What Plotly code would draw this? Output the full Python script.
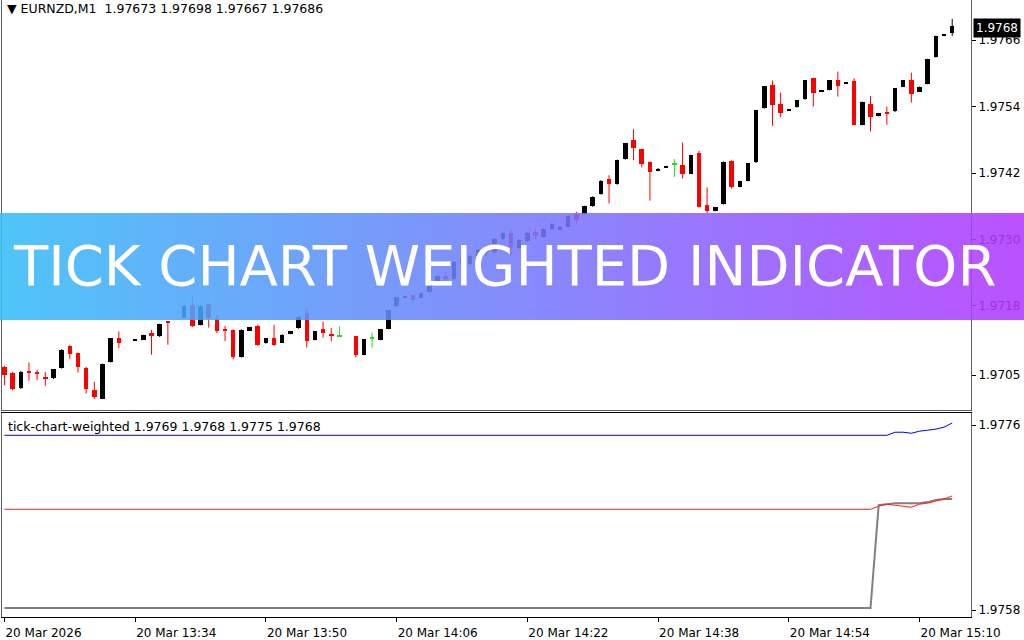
import base64
import struct
import zlib
import plotly.graph_objects as go

# ---------------- data ----------------
DATE = "2026-03-20"
times = [
    "13:18", "13:19", "13:20", "13:21", "13:22", "13:23", "13:24", "13:25", "13:26", "13:27",
    "13:28", "13:29", "13:30", "13:31", "13:32", "13:34", "13:35", "13:36", "13:37", "13:38",
    "13:40", "13:41", "13:42", "13:43", "13:44", "13:45", "13:46", "13:47", "13:48", "13:49",
    "13:50", "13:51", "13:52", "13:53", "13:54", "13:55", "13:56", "13:57", "13:58", "13:59",
    "14:01", "14:02", "14:03", "14:04", "14:05", "14:06", "14:07", "14:08", "14:09", "14:10",
    "14:11", "14:12", "14:13", "14:14", "14:15", "14:16", "14:17", "14:18", "14:19", "14:20",
    "14:21", "14:22", "14:23", "14:24", "14:25", "14:26", "14:27", "14:28", "14:29", "14:30",
    "14:31", "14:32", "14:33", "14:34", "14:35", "14:36", "14:37", "14:38", "14:39", "14:40",
    "14:41", "14:42", "14:43", "14:44", "14:45", "14:46", "14:47", "14:48", "14:49", "14:50",
    "14:51", "14:52", "14:53", "14:54", "14:55", "14:56", "14:57", "14:58", "14:59", "15:00",
    "15:01", "15:02", "15:03", "15:04", "15:05", "15:06", "15:07", "15:08", "15:09", "15:10",
    "15:11", "15:12", "15:13", "15:14",
]
opens = [
    1.97070, 1.97059, 1.97032, 1.97061, 1.97061, 1.97052, 1.97050, 1.97068, 1.97108, 1.97095,
    1.97069, 1.97028, 1.97013, 1.97079, 1.97122, 1.97117, 1.97119, 1.97132, 1.97125, 1.97152,
    1.97158, 1.97182, 1.97146, 1.97184, 1.97156, 1.97138, 1.97137, 1.97088, 1.97135, 1.97144,
    1.97113, 1.97122, 1.97114, 1.97130, 1.97140, 1.97167, 1.97119, 1.97138, 1.97130, 1.97125,
    1.97125, 1.97092, 1.97122, 1.97119, 1.97138, 1.97180, 1.97196, 1.97200, 1.97194, 1.97206,
    1.97221, 1.97234, 1.97229, 1.97267, 1.97256, 1.97270, 1.97283, 1.97277, 1.97301, 1.97312,
    1.97285, 1.97297, 1.97314, 1.97304, 1.97319, 1.97317, 1.97323, 1.97346, 1.97346, 1.97360,
    1.97382, 1.97410, 1.97400, 1.97445, 1.97480, 1.97463, 1.97440, 1.97425, 1.97430, 1.97435,
    1.97435, 1.97419, 1.97457, 1.97362, 1.97351, 1.97364, 1.97442, 1.97395, 1.97406, 1.97439,
    1.97537, 1.97579, 1.97545, 1.97533, 1.97539, 1.97553, 1.97591, 1.97567, 1.97570, 1.97587,
    1.97582, 1.97586, 1.97507, 1.97545, 1.97523, 1.97530, 1.97531, 1.97576, 1.97587, 1.97567,
    1.97581, 1.97629, 1.97668, 1.97673,
]
highs = [
    1.97072, 1.97061, 1.97063, 1.97078, 1.97065, 1.97061, 1.97066, 1.97102, 1.97110, 1.97096,
    1.97070, 1.97043, 1.97076, 1.97122, 1.97134, 1.97118, 1.97128, 1.97137, 1.97148, 1.97152,
    1.97182, 1.97197, 1.97181, 1.97185, 1.97164, 1.97144, 1.97138, 1.97138, 1.97142, 1.97146,
    1.97122, 1.97146, 1.97129, 1.97134, 1.97161, 1.97176, 1.97134, 1.97152, 1.97140, 1.97143,
    1.97125, 1.97120, 1.97132, 1.97138, 1.97173, 1.97196, 1.97197, 1.97200, 1.97204, 1.97221,
    1.97235, 1.97241, 1.97261, 1.97272, 1.97272, 1.97283, 1.97288, 1.97303, 1.97313, 1.97319,
    1.97301, 1.97313, 1.97319, 1.97321, 1.97330, 1.97324, 1.97343, 1.97350, 1.97361, 1.97378,
    1.97407, 1.97416, 1.97444, 1.97474, 1.97499, 1.97464, 1.97441, 1.97429, 1.97433, 1.97445,
    1.97475, 1.97453, 1.97460, 1.97394, 1.97358, 1.97441, 1.97443, 1.97406, 1.97438, 1.97534,
    1.97577, 1.97587, 1.97565, 1.97534, 1.97552, 1.97587, 1.97592, 1.97570, 1.97587, 1.97603,
    1.97584, 1.97591, 1.97549, 1.97559, 1.97528, 1.97540, 1.97573, 1.97587, 1.97601, 1.97576,
    1.97626, 1.97668, 1.97671, 1.97698,
]
lows = [
    1.97037, 1.97028, 1.97030, 1.97045, 1.97046, 1.97036, 1.97048, 1.97067, 1.97084, 1.97060,
    1.97022, 1.97012, 1.97012, 1.97078, 1.97104, 1.97117, 1.97119, 1.97092, 1.97124, 1.97110,
    1.97158, 1.97142, 1.97145, 1.97141, 1.97131, 1.97117, 1.97084, 1.97087, 1.97135, 1.97108,
    1.97112, 1.97108, 1.97113, 1.97129, 1.97139, 1.97105, 1.97118, 1.97123, 1.97116, 1.97124,
    1.97087, 1.97091, 1.97105, 1.97118, 1.97138, 1.97179, 1.97196, 1.97185, 1.97194, 1.97205,
    1.97220, 1.97221, 1.97227, 1.97252, 1.97254, 1.97268, 1.97270, 1.97275, 1.97299, 1.97272,
    1.97283, 1.97295, 1.97301, 1.97303, 1.97317, 1.97316, 1.97322, 1.97329, 1.97345, 1.97359,
    1.97381, 1.97365, 1.97399, 1.97444, 1.97443, 1.97430, 1.97370, 1.97425, 1.97430, 1.97413,
    1.97410, 1.97419, 1.97358, 1.97347, 1.97351, 1.97363, 1.97392, 1.97394, 1.97405, 1.97438,
    1.97536, 1.97505, 1.97521, 1.97533, 1.97538, 1.97552, 1.97540, 1.97566, 1.97569, 1.97558,
    1.97582, 1.97506, 1.97506, 1.97495, 1.97522, 1.97507, 1.97530, 1.97575, 1.97547, 1.97566,
    1.97580, 1.97628, 1.97667, 1.97667,
]
closes = [
    1.97055, 1.97030, 1.97061, 1.97060, 1.97058, 1.97048, 1.97066, 1.97101, 1.97093, 1.97070,
    1.97031, 1.97016, 1.97075, 1.97122, 1.97113, 1.97118, 1.97128, 1.97125, 1.97148, 1.97150,
    1.97180, 1.97143, 1.97180, 1.97158, 1.97134, 1.97134, 1.97088, 1.97137, 1.97142, 1.97110,
    1.97122, 1.97110, 1.97128, 1.97134, 1.97161, 1.97116, 1.97134, 1.97131, 1.97125, 1.97125,
    1.97092, 1.97120, 1.97122, 1.97138, 1.97173, 1.97196, 1.97197, 1.97191, 1.97204, 1.97221,
    1.97234, 1.97229, 1.97259, 1.97256, 1.97270, 1.97281, 1.97277, 1.97301, 1.97312, 1.97286,
    1.97299, 1.97312, 1.97306, 1.97319, 1.97328, 1.97323, 1.97342, 1.97335, 1.97360, 1.97377,
    1.97406, 1.97401, 1.97443, 1.97474, 1.97465, 1.97436, 1.97422, 1.97428, 1.97433, 1.97435,
    1.97418, 1.97453, 1.97359, 1.97352, 1.97358, 1.97440, 1.97394, 1.97406, 1.97438, 1.97534,
    1.97577, 1.97543, 1.97529, 1.97534, 1.97552, 1.97587, 1.97564, 1.97570, 1.97587, 1.97577,
    1.97583, 1.97507, 1.97549, 1.97521, 1.97528, 1.97528, 1.97573, 1.97587, 1.97563, 1.97576,
    1.97626, 1.97667, 1.97670, 1.97686,
]

blue_t = ["13:18", "15:06", "15:07", "15:08", "15:09", "15:10", "15:11", "15:12", "15:13", "15:14"]
blue_v = [1.97750, 1.97750, 1.97753, 1.97753, 1.97752, 1.97754, 1.97755, 1.97756, 1.97758, 1.97762]
red_t = ["13:18", "15:04", "15:05", "15:06", "15:07", "15:08", "15:09", "15:10", "15:11", "15:12", "15:13", "15:14"]
red_v = [1.97678, 1.97678, 1.97681, 1.97683, 1.97682, 1.97681, 1.97680, 1.97683, 1.97684, 1.97686, 1.97688, 1.97691]
grey_t = ["13:18", "15:04", "15:05", "15:06", "15:07", "15:10", "15:11", "15:12", "15:13", "15:14"]
grey_v = [1.97582, 1.97582, 1.97682, 1.97683, 1.97684, 1.97684, 1.97685, 1.97687, 1.97688, 1.97688]

main_tick_vals = [1.9766, 1.9754, 1.9742, 1.9730, 1.9718, 1.97055]
main_tick_text = ["1.9766", "1.9754", "1.9742", "1.9730", "1.9718", "1.9705"]
sub_tick_vals = [1.9776, 1.9758]
sub_tick_text = ["1.9776", "1.9758"]
x_tick_times = ["13:18", "13:34", "13:50", "14:06", "14:22", "14:38", "14:54", "15:10"]
x_tick_text = ["20 Mar 2026", "20 Mar 13:34", "20 Mar 13:50", "20 Mar 14:06",
               "20 Mar 14:22", "20 Mar 14:38", "20 Mar 14:54", "20 Mar 15:10"]

header_text = "\u25BC EURNZD,M1  1.97673 1.97698 1.97667 1.97686"
indicator_text = "tick-chart-weighted 1.9769 1.9768 1.9775 1.9768"
banner_text = "TICK CHART WEIGHTED INDICATOR"
last_price = 1.97686
last_price_text = "1.9768"

# ---------------- styling ----------------
W, H = 1024, 640
ML, MR, MT, MB = 2, 53, 0, 23
PW, PH = W - ML - MR, H - MT - MB
FONT = "DejaVu Sans"
UP, DOWN, FLAT = "#000000", "#ff0000", "#22dd22"
BODY_MS = 33000
MIN_BODY = 0.000022


def px_x(px):
    return (px - ML) / PW


def px_y(py):
    return (PH + MT - py) / PH


def stamp(t):
    return f"{DATE} {t}"


def gradient_png(c0, c1, w=512, h=4):
    raw = bytearray()
    for _ in range(h):
        raw.append(0)
        for i in range(w):
            t = i / (w - 1)
            raw += bytes(round(c0[k] + (c1[k] - c0[k]) * t) for k in range(3))

    def chunk(tag, data):
        return (struct.pack(">I", len(data)) + tag + data +
                struct.pack(">I", zlib.crc32(tag + data) & 0xFFFFFFFF))

    ihdr = struct.pack(">IIBBBBB", w, h, 8, 2, 0, 0, 0)
    png = (b"\x89PNG\r\n\x1a\n" + chunk(b"IHDR", ihdr) +
           chunk(b"IDAT", zlib.compress(bytes(raw))) + chunk(b"IEND", b""))
    return "data:image/png;base64," + base64.b64encode(png).decode()


xs = [stamp(t) for t in times]
groups = {UP: [], DOWN: [], FLAT: []}
for i in range(len(xs)):
    o, c = opens[i], closes[i]
    col = UP if c > o else (DOWN if c < o else FLAT)
    groups[col].append(i)

fig = go.Figure()

# wicks
for col, idx in groups.items():
    wx, wy = [], []
    for i in idx:
        wx += [xs[i], xs[i], None]
        wy += [lows[i], highs[i], None]
    fig.add_trace(go.Scatter(x=wx, y=wy, mode="lines", line=dict(color=col, width=1),
                             hoverinfo="skip", showlegend=False, xaxis="x", yaxis="y"))

# bodies
for col, idx in groups.items():
    bx = [xs[i] for i in idx]
    base = [min(opens[i], closes[i]) for i in idx]
    hgt = [max(abs(closes[i] - opens[i]), MIN_BODY) for i in idx]
    base = [b - (MIN_BODY - h) / 2 if h == MIN_BODY else b for b, h in zip(base, hgt)]
    fig.add_trace(go.Bar(x=bx, y=hgt, base=base, width=BODY_MS, marker=dict(color=col, line=dict(width=0)),
                         hoverinfo="skip", showlegend=False, xaxis="x", yaxis="y"))

# indicator pane
fig.add_trace(go.Scatter(x=[stamp(t) for t in blue_t], y=blue_v, mode="lines",
                         line=dict(color="#0000ff", width=1), showlegend=False,
                         hoverinfo="skip", xaxis="x2", yaxis="y2"))
fig.add_trace(go.Scatter(x=[stamp(t) for t in grey_t], y=grey_v, mode="lines",
                         line=dict(color="#808080", width=2), showlegend=False,
                         hoverinfo="skip", xaxis="x2", yaxis="y2"))
fig.add_trace(go.Scatter(x=[stamp(t) for t in red_t], y=red_v, mode="lines",
                         line=dict(color="#ff2020", width=1), showlegend=False,
                         hoverinfo="skip", xaxis="x2", yaxis="y2"))

x_range = [f"{DATE} 13:17:42", f"{DATE} 15:16:18"]
main_dom = [px_y(410), 1.0]
sub_dom = [0.0, px_y(413)]

axis_font = dict(family=FONT, size=12, color="#000000")
fig.update_layout(
    width=W, height=H, margin=dict(l=ML, r=MR, t=MT, b=MB),
    paper_bgcolor="#ffffff", plot_bgcolor="#ffffff",
    barmode="overlay", bargap=0,
    xaxis=dict(type="date", range=x_range, domain=[0, 1], anchor="y", matches="x2",
               showticklabels=False, showgrid=False, zeroline=False, ticks="",
               showline=True, linecolor="#606060", linewidth=1, mirror=False),
    yaxis=dict(domain=main_dom, range=[1.969923, 1.977322], side="right",
               tickvals=main_tick_vals, ticktext=main_tick_text, tickfont=axis_font,
               ticks="outside", ticklen=4, tickcolor="#000000",
               showgrid=False, zeroline=False, showline=True, linecolor="#606060",
               linewidth=1, mirror=True),
    xaxis2=dict(type="date", range=x_range, domain=[0, 1], anchor="y2",
                tickvals=[stamp(t) for t in x_tick_times], ticktext=x_tick_text,
                tickfont=axis_font, ticks="outside", ticklen=4, tickcolor="#000000",
                ticklabelposition="outside right", ticklabelstandoff=5,
                showgrid=False, zeroline=False, showline=True, linecolor="#000000",
                linewidth=1, mirror=True),
    yaxis2=dict(domain=sub_dom, range=[1.975732, 1.977717], side="right",
                tickvals=sub_tick_vals, ticktext=sub_tick_text, tickfont=axis_font,
                ticks="outside", ticklen=4, tickcolor="#000000",
                showgrid=False, zeroline=False, showline=True, linecolor="#606060",
                linewidth=1, mirror=True),
    font=dict(family=FONT, size=12, color="#000000"),
)

fig.add_annotation(xref="paper", yref="paper", x=px_x(5), y=px_y(8), text=header_text,
                   showarrow=False, xanchor="left", yanchor="middle",
                   font=dict(family=FONT, size=12.5, color="#000000"))
fig.add_annotation(xref="paper", yref="paper", x=px_x(6), y=px_y(426), text=indicator_text,
                   showarrow=False, xanchor="left", yanchor="middle",
                   font=dict(family=FONT, size=12.5, color="#000000"))
fig.add_annotation(xref="paper", yref="y", x=px_x(973), y=last_price, text=last_price_text,
                   showarrow=False, xanchor="left", yanchor="middle", yshift=-2,
                   bgcolor="#000000", borderpad=2,
                   font=dict(family=FONT, size=12, color="#ffffff"))

# banner
fig.add_layout_image(dict(source=gradient_png((55, 190, 248), (178, 58, 255)),
                          xref="paper", yref="paper", x=px_x(0), y=px_y(213),
                          sizex=W / PW, sizey=107 / PH, xanchor="left", yanchor="top",
                          sizing="stretch", opacity=0.88, layer="above"))
fig.add_annotation(xref="paper", yref="paper", x=px_x(504), y=px_y(265), text=banner_text,
                   showarrow=False, xanchor="center", yanchor="middle",
                   font=dict(family=FONT, size=56, color="#ffffff"))

fig.write_html("out.html", config={"displayModeBar": False},
               post_script="document.body.style.margin='0';document.body.style.overflow='hidden';")
